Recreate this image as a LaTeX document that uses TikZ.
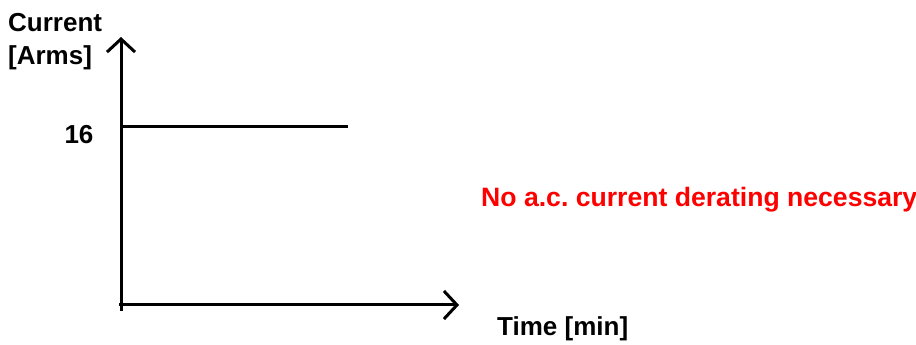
\documentclass[tikz,border=0pt]{standalone}
\usepackage{fontspec}
\setmainfont{Liberation Sans}
\usetikzlibrary{arrows.meta}
\frenchspacing
\begin{document}
\begin{tikzpicture}[x=1pt,y=1pt,
  axis/.style={line width=3pt, -{Straight Barb[length=13pt,width=28pt,line width=3pt]}},
  lbl/.style={font=\fontsize{26}{30}\selectfont\bfseries, inner sep=0pt},
  note/.style={inner sep=0pt, font=\fontsize{26.6}{30}\selectfont\bfseries, text=red}]
\useasboundingbox (0,0) rectangle (916,345);
\coordinate (o) at (121,34);
\coordinate (ytip) at (121,308);
\coordinate (xstart) at (119,40);
\coordinate (xtip) at (459,40);
\coordinate (l0) at (121,218);
\coordinate (l1) at (348,218);
\draw[axis] (o) -- (ytip);
\draw[axis] (xstart) -- (xtip);
\draw[line width=3pt] (l0) -- (l1);
\node[lbl, anchor=west] (cur) at (8,322) {Current};
\node[lbl, anchor=west] (arms) at (8,287) {[Arms]};
\node[lbl] (sixteen) at (79,210) {16};
\node[note, anchor=west] (nd) at (481,145) {No a.c. current derating necessary};
\node[lbl, anchor=west] (time) at (497,16) {Time [min]};
\end{tikzpicture}
\end{document}
